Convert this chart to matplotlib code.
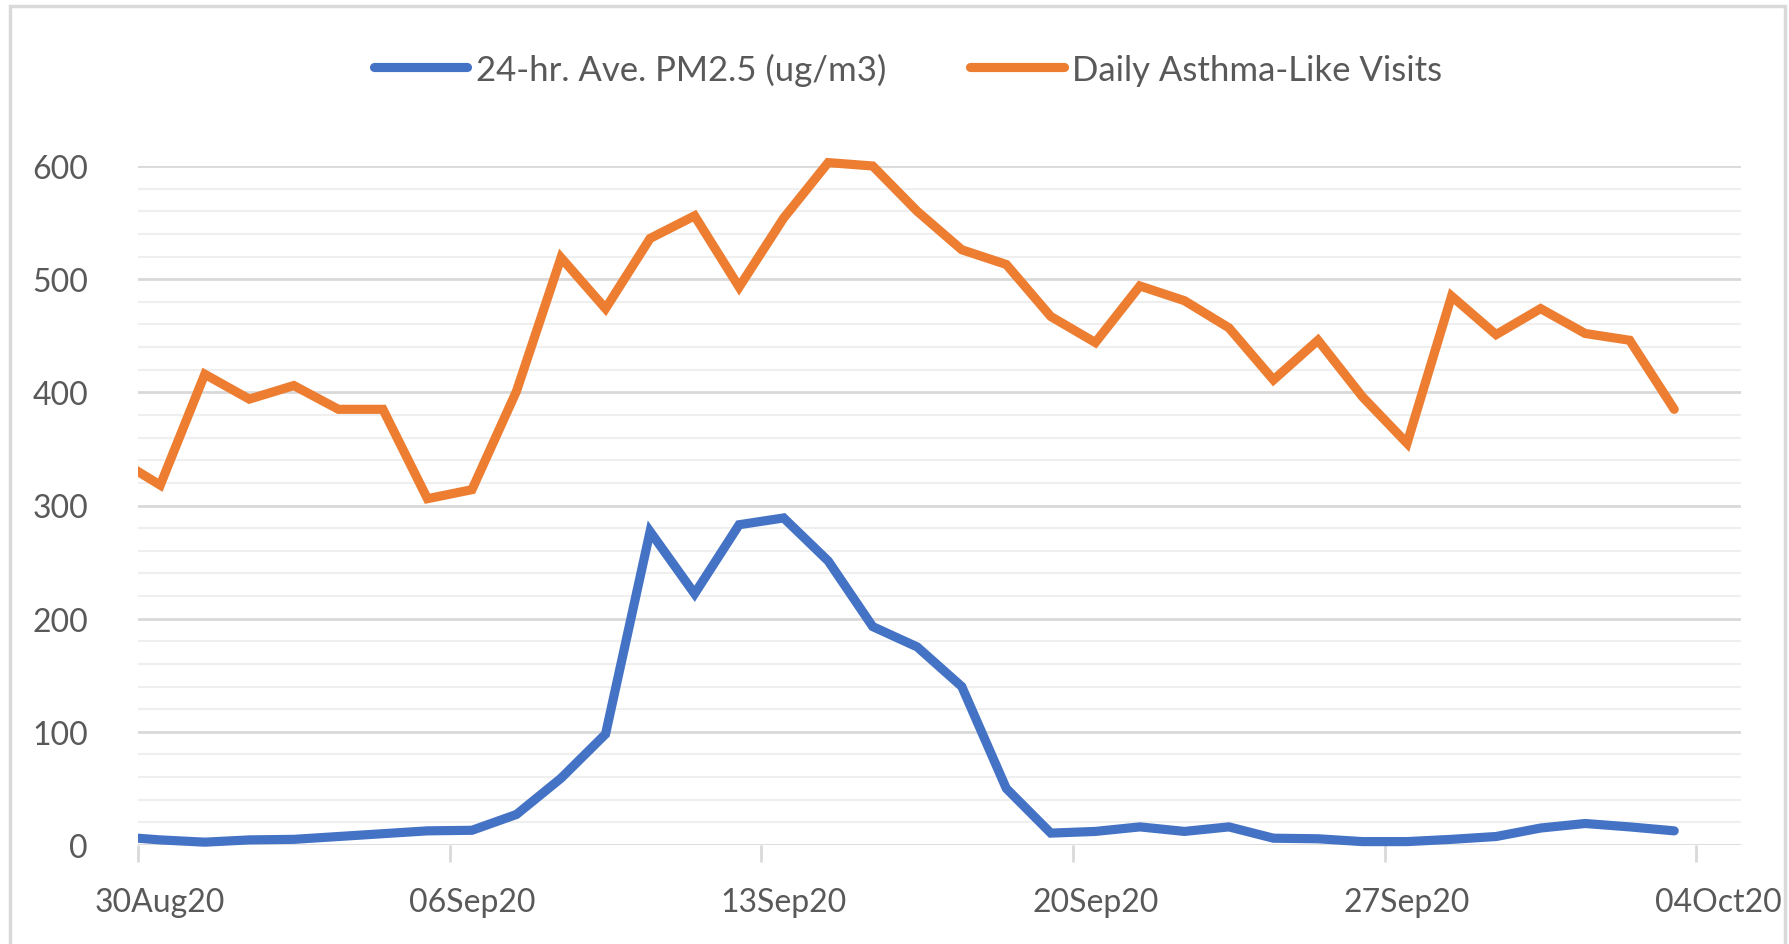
import matplotlib
matplotlib.use("Agg")
import matplotlib.pyplot as plt
from matplotlib.patches import Rectangle
import matplotlib.dates as mdates
import pandas as pd

# ---- data ----
# daily values (points plotted at mid-day); first point (29 Aug) is only partly visible
dates = pd.date_range("2020-08-29 12:00", periods=36, freq="D")
pm25 = [7.5, 4.5, 2.5, 4.5, 5, 7.5, 10, 12.5, 13, 27, 59, 98, 277, 222, 283, 289,
        251, 193, 175, 140, 50, 10.5, 12, 16, 12, 16, 6, 5.5, 3, 3, 5, 7.5, 15, 19,
        16, 12.5]
asthma = [342, 318, 416, 394, 406, 385, 385, 306, 314, 401, 519, 474, 536, 556, 493,
          554, 603, 600, 560, 526, 513, 467, 444, 494, 481, 457, 411, 446, 396, 355,
          485, 451, 474, 452, 446, 385]
series_labels = ["24-hr. Ave. PM2.5 (ug/m3)", "Daily Asthma-Like Visits"]
tick_dates = ["2020-08-30", "2020-09-06", "2020-09-13", "2020-09-20", "2020-09-27", "2020-10-04"]
tick_labels = ["30Aug20", "06Sep20", "13Sep20", "20Sep20", "27Sep20", "04Oct20"]
y_ticks = [0, 100, 200, 300, 400, 500, 600]

plt.rcParams["font.family"] = ["Lato", "DejaVu Sans"]
TXT = "#595959"
BLUE = "#4472C4"
ORANGE = "#ED7D31"

fig = plt.figure(figsize=(17.9, 9.45), dpi=100)
ax = fig.add_axes([138 / 1790, 1 - 846 / 945, (1741 - 138) / 1790, (846 - 167) / 945])

# gridlines
for v in range(20, 600, 20):
    if v % 100:
        ax.axhline(v, color="#efefef", lw=1.5, zorder=0)
for v in y_ticks[1:]:
    ax.axhline(v, color="#d9d9d9", lw=2.0, zorder=0)
ax.axhline(0, color="#d9d9d9", lw=2.0, zorder=1)

x0, x1 = pd.Timestamp("2020-08-30"), pd.Timestamp("2020-10-05")
l1, = ax.plot(dates, pm25, color=BLUE, lw=6.6, solid_capstyle="round",
              solid_joinstyle="miter", zorder=3, label=series_labels[0])
l2, = ax.plot(dates, asthma, color=ORANGE, lw=6.6, solid_capstyle="round",
              solid_joinstyle="miter", zorder=3, label=series_labels[1])

ax.set_xlim(x0, x1)
ax.set_ylim(0, 600)

# clip only on the left/right: lines may rise slightly above the 600 gridline
clip = Rectangle((mdates.date2num(x0), -50), mdates.date2num(x1) - mdates.date2num(x0), 800,
                 transform=ax.transData, visible=False)
ax.add_patch(clip)
for ln in (l1, l2):
    ln.set_clip_path(clip)

ax.set_yticks(y_ticks)
ax.tick_params(axis="y", length=0, labelsize=23, labelcolor=TXT, pad=36)

major = [pd.Timestamp(d) for d in tick_dates]
ax.set_xticks(major)
ax.set_xticklabels([""] * len(major))
ax.tick_params(axis="x", which="major", length=12, width=2, color="#d9d9d9", direction="out")
ax.set_xticks([d + pd.Timedelta(hours=12) for d in major], minor=True)
ax.set_xticklabels(tick_labels, minor=True)
ax.tick_params(axis="x", which="minor", length=0, labelsize=23, labelcolor=TXT, pad=30)

for s in ax.spines.values():
    s.set_visible(False)

leg = fig.legend(handles=[l1, l2], loc="center", bbox_to_anchor=(908 / 1790, 1 - 70 / 945),
                 ncol=2, frameon=False, fontsize=25, handlelength=2.7, handletextpad=0.25,
                 columnspacing=2.4)
for t in leg.get_texts():
    t.set_color(TXT)

fig.patches.append(Rectangle((10 / 1790, -0.05), (1785 - 10) / 1790, 1.05 - 7 / 945,
                             transform=fig.transFigure, fill=False, edgecolor="#d9d9d9",
                             lw=2.5, zorder=-1))

fig.savefig("out.png", dpi=100, facecolor="white")
